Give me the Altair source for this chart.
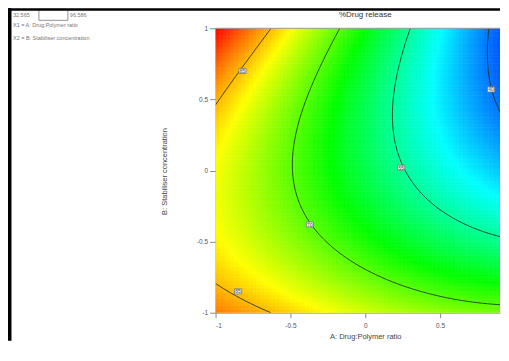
import numpy as np
import pandas as pd
import altair as alt

# ---- values (coded factors A, B) ----
# points lying on each labelled contour
c85_a = [-0.63, -0.82, -0.99, -0.99, -0.85, -0.64]
c85_b = [1.00, 0.70, 0.35, -0.70, -0.85, -1.00]
c70_a = [-0.17, -0.24, -0.37, -0.45, -0.48, -0.47, -0.44, -0.37, -0.20, -0.04, 0.12, 0.45, 0.95]
c70_b = [1.00, 0.85, 0.59, 0.38, 0.19, -0.09, -0.21, -0.38, -0.56, -0.69, -0.75, -0.84, -0.93]
c55_a = [0.31, 0.27, 0.20, 0.165, 0.18, 0.24, 0.30, 0.37, 0.56, 0.78, 0.95]
c55_b = [1.00, 0.85, 0.61, 0.38, 0.17, 0.03, -0.07, -0.18, -0.32, -0.42, -0.49]
c40_a = [0.84, 0.85, 0.84, 0.87, 0.94]
c40_b = [0.99, 0.85, 0.58, 0.43, 0.31]
levels = [85, 70, 55, 40]
# colour-read spot values
spot_a = [-1.0, -1.0, -1.0, -1.0, -0.75, 0.0, 0.94, 0.94, 0.94]
spot_b = [1.0, 0.0, -0.35, -1.0, 0.0, 0.0, 1.0, 0.0, -1.0]
spot_v = [96, 79, 79, 88, 76, 60, 36, 46, 71]
# contour label boxes
lab_a = [-0.82, -0.85, -0.37, 0.24, 0.84]
lab_b = [0.70, -0.85, -0.38, 0.02, 0.57]
lab_t = ["85", "85", "70", "55", "40"]
# colour bar limits
resp_min = 32.565
resp_max = 96.586
x_ticks = [-1, -0.5, 0, 0.5]
y_ticks = [-1, -0.5, 0, 0.5, 1]

# ---- response surface fitted to the read values ----
pa = np.array(c85_a + c70_a + c55_a + c40_a + spot_a, float)
pb = np.array(c85_b + c70_b + c55_b + c40_b + spot_b, float)
pv = np.array([85] * len(c85_a) + [70] * len(c70_a) + [55] * len(c55_a)
              + [40] * len(c40_a) + spot_v, float)


def feats(a, b):
    return np.stack([np.ones_like(a), a, b, a * a, a * b, b * b,
                     a ** 3, a * a * b, a * b * b, b ** 3], axis=-1)


coef, *_ = np.linalg.lstsq(feats(pa, pb), pv, rcond=None)


def surf(a, b):
    return feats(a, b) @ coef


W = 285
H = 285
XMAX = -1 + W / 150.0
step = 0.025
edges_a = np.arange(-1.0, XMAX + step, step)
edges_b = np.arange(-1.0, 1.0 + 1e-9, step)
A0, B0 = np.meshgrid(edges_a[:-1], edges_b[:-1])
A1, B1 = A0 + step, B0 + step
Z = surf((A0 + A1) / 2, (B0 + B1) / 2)
heat = pd.DataFrame({"a": A0.ravel(), "a2": A1.ravel(), "b": B0.ravel(),
                     "b2": B1.ravel(), "v": Z.ravel()})

# marching squares for the contour lines
g = np.linspace(-1, 1, 121)
GA, GB = np.meshgrid(g, g)
GZ = surf(GA, GB)
segs = []
for L in levels:
    for i in range(len(g) - 1):
        for j in range(len(g) - 1):
            corners = [(GA[i, j], GB[i, j], GZ[i, j]), (GA[i, j + 1], GB[i, j + 1], GZ[i, j + 1]),
                       (GA[i + 1, j + 1], GB[i + 1, j + 1], GZ[i + 1, j + 1]),
                       (GA[i + 1, j], GB[i + 1, j], GZ[i + 1, j])]
            pts = []
            for k in range(4):
                xa, ya, za = corners[k]
                xb, yb, zb = corners[(k + 1) % 4]
                if (za - L) * (zb - L) < 0:
                    t = (L - za) / (zb - za)
                    pts.append((xa + t * (xb - xa), ya + t * (yb - ya)))
            for m in range(0, len(pts) - 1, 2):
                segs.append({"a": pts[m][0], "b": pts[m][1],
                             "a2": pts[m + 1][0], "b2": pts[m + 1][1]})
lines = pd.DataFrame(segs)
labels = pd.DataFrame({"a": lab_a, "b": lab_b, "t": lab_t})

FONT = "Liberation Sans"
xs = alt.Scale(domain=[-1, XMAX], nice=False, zero=False)
ys = alt.Scale(domain=[-1, 1], nice=False, zero=False)
span = resp_max - resp_min
cs = alt.Scale(domain=[resp_min + span * k / 4 for k in range(5)],
               range=["#0000ff", "#00ffff", "#00ff00", "#ffff00", "#ff0000"],
               interpolate="rgb", clamp=True)

xaxis = alt.Axis(values=x_ticks, labelExpr="'' + datum.value", title="A: Drug:Polymer ratio",
                 labelFontSize=6.5, labelColor="#555", tickColor="#888", tickSize=5,
                 domainColor="#999", titleFontSize=7.5, titleFontWeight="normal",
                 titleColor="#444", titleX=150, titleY=24, titleBaseline="middle",
                 labelFont=FONT, titleFont=FONT, grid=False, labelPadding=4.5)
yaxis = alt.Axis(values=y_ticks, labelExpr="'' + datum.value",
                 title="B: Stabiliser concentration",
                 labelFontSize=6.5, labelColor="#555", tickColor="#888", tickSize=6,
                 domainColor="#999", titleFontSize=7.5, titleFontWeight="normal",
                 titleColor="#444", titleX=-51, titleY=143, titleBaseline="middle",
                 labelFont=FONT, titleFont=FONT, grid=False, labelPadding=2)

heatmap = alt.Chart(heat).mark_rect(clip=True, strokeWidth=0.6).encode(
    x=alt.X("a:Q", scale=xs, axis=xaxis),
    x2="a2:Q",
    y=alt.Y("b:Q", scale=ys, axis=yaxis),
    y2="b2:Q",
    color=alt.Color("v:Q", scale=cs, legend=None),
    stroke=alt.Color("v:Q", scale=cs, legend=None),
)

contours = alt.Chart(lines).mark_rule(clip=True, color="#1e2e1e", strokeWidth=1, opacity=0.85).encode(
    x=alt.X("a:Q", scale=xs), y=alt.Y("b:Q", scale=ys), x2="a2:Q", y2="b2:Q")

boxes = alt.Chart(labels).mark_point(
    shape="M-1.2,-0.85L1.2,-0.85L1.2,0.85L-1.2,0.85Z", size=36, filled=True,
    fill="#f0f0f0", stroke="#777", strokeWidth=0.8, opacity=1).encode(
    x=alt.X("a:Q", scale=xs), y=alt.Y("b:Q", scale=ys))
boxtext = alt.Chart(labels).mark_text(fontSize=5, color="#555", font=FONT).encode(
    x=alt.X("a:Q", scale=xs), y=alt.Y("b:Q", scale=ys), text="t:N")

topline = alt.Chart(pd.DataFrame({"b": [1.0]})).mark_rule(color="#999", strokeWidth=1).encode(
    y=alt.Y("b:Q", scale=ys), x=alt.value(0), x2=alt.value(W))

title = alt.Chart(pd.DataFrame({"a": [0.0], "t": ["%Drug release"]})).mark_text(
    fontSize=8, color="#333", font=FONT, baseline="middle").encode(
    x=alt.X("a:Q", scale=xs), y=alt.value(-13), text="t:N")

leg_df = pd.DataFrame({
    "t": [f"{resp_min:.3f}", f"{resp_max:.3f}", "X1 = A: Drug:Polymer ratio",
          "X2 = B: Stabiliser concentration"],
    "px": [-203, -146, -203, -203],
    "py": [-13.5, -13.5, -3, 10],
})
legend_text = alt.Chart(leg_df).mark_text(fontSize=5.5, color="#777", font=FONT,
                                          align="left", baseline="middle").encode(
    x=alt.X("px:Q", scale=None), y=alt.Y("py:Q", scale=None), text="t:N")
legend_box = alt.Chart(pd.DataFrame({"k": [0]})).mark_rect(
    fill="white", stroke="#777", strokeWidth=0.8).encode(
    x=alt.value(-177), x2=alt.value(-148), y=alt.value(-19), y2=alt.value(-8))

frame_top = alt.Chart(pd.DataFrame({"k": [0]})).mark_rect(color="black").encode(
    x=alt.value(-208), x2=alt.value(W), y=alt.value(-20), y2=alt.value(-17.5))
frame_left = alt.Chart(pd.DataFrame({"k": [0]})).mark_rect(color="black").encode(
    x=alt.value(-208), x2=alt.value(-204.5), y=alt.value(-20), y2=alt.value(H + 28))

chart = alt.layer(
    heatmap, contours, topline, boxes, boxtext, title, legend_box, legend_text,
    frame_top, frame_left
).properties(
    width=W, height=H,
    autosize=alt.AutoSizeParams(type="pad"),
    padding=0,
    background="white",
).configure_view(stroke=None)

chart.save("out.html", embed_options={"renderer": "svg", "actions": False})
